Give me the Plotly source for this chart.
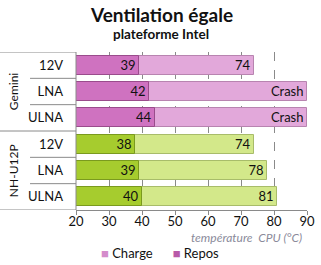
import plotly.graph_objects as go

groups = ["Gemini", "Gemini", "Gemini", "NH-U12P", "NH-U12P", "NH-U12P"]
configs = ["12V", "LNA", "ULNA", "12V", "LNA", "ULNA"]
repos = [39, 42, 44, 38, 39, 40]
charge = [74, 90, 90, 74, 78, 81]
charge_text = ["74", "Crash", "Crash", "74", "78", "81"]
x_ticks = [20, 30, 40, 50, 60, 70, 80, 90]

repos_colors = ["#cf72c0"] * 3 + ["#a6cc2e"] * 3
charge_colors = ["#e2a8da"] * 3 + ["#d3e88a"] * 3
repos_line = ["#9a4c8c"] * 3 + ["#7a9a1e"] * 3
charge_line = ["#b884b0"] * 3 + ["#a8bc6a"] * 3

ypos = list(range(len(configs) - 1, -1, -1))
FONT = "Lato, Carlito, Calibri, sans-serif"

fig = go.Figure()
fig.add_trace(go.Bar(
    name="Charge", orientation="h", y=ypos, x=charge, width=0.72,
    marker=dict(color=charge_colors, line=dict(color=charge_line, width=1)),
    text=charge_text, textposition="inside", insidetextanchor="end",
    textfont=dict(size=13, color="#111", family=FONT), constraintext="none",
    textangle=0, showlegend=False,
))
fig.add_trace(go.Bar(
    name="Repos", orientation="h", y=ypos, x=repos, width=0.72,
    marker=dict(color=repos_colors, line=dict(color=repos_line, width=1)),
    text=[str(v) for v in repos], textposition="inside", insidetextanchor="end",
    textfont=dict(size=13, color="#111", family=FONT), constraintext="none",
    textangle=0, showlegend=False,
))

shapes = []
for i in range(len(configs) + 1):
    yb = i - 0.5
    full = (i == 0 or i == len(configs) or i == 3)
    shapes.append(dict(type="line", xref="paper", yref="y",
                       x0=-0.33 if full else -0.199, x1=0, y0=yb, y1=yb,
                       line=dict(color="#8a8a8a", width=1)))
shapes.append(dict(type="line", xref="paper", yref="y", x0=0, x1=0,
                   y0=-0.5, y1=len(configs) - 0.5, line=dict(color="#8a8a8a", width=1)))

legend_text = ('<span style="color:#d48ccb">■</span> Charge      '
               '<span style="color:#b85aa8">■</span> Repos')

annotations = [
    dict(text="Gemini", xref="paper", yref="y", x=-0.27, xanchor="center", y=4,
         textangle=-90, showarrow=False, font=dict(size=12, color="#111", family=FONT)),
    dict(text="NH-U12P", xref="paper", yref="y", x=-0.27, xanchor="center", y=1,
         textangle=-90, showarrow=False, font=dict(size=12, color="#111", family=FONT)),
    dict(text="<b>Ventilation égale</b>", xref="paper", yref="paper", x=0.368,
         xanchor="center", y=1, yanchor="middle", yshift=38, showarrow=False,
         font=dict(size=19, color="#111", family=FONT)),
    dict(text="<b>plateforme Intel</b>", xref="paper", yref="paper", x=0.368,
         xanchor="center", y=1, yanchor="middle", yshift=18, showarrow=False,
         font=dict(size=13.5, color="#111", family=FONT)),
    dict(text="<i>température  CPU (°C)</i>", xref="paper", yref="paper", x=0.985,
         xanchor="right", y=0, yanchor="middle", yshift=-27, showarrow=False,
         font=dict(size=12, color="#8a8a9a", family=FONT)),
    dict(text=legend_text, xref="paper", yref="paper", x=0.364, xanchor="center",
         y=0, yanchor="middle", yshift=-43, showarrow=False,
         font=dict(size=13, color="#111", family=FONT)),
]

fig.update_layout(
    width=321, height=265, barmode="overlay",
    margin=dict(l=76, r=14, t=52, b=55, autoexpand=False),
    paper_bgcolor="white", plot_bgcolor="white",
    font=dict(family=FONT, size=12, color="#111"),
    showlegend=False,
    shapes=shapes, annotations=annotations, bargap=0,
)
fig.update_xaxes(range=[20, 90], tickvals=x_ticks, showgrid=True,
                 gridcolor="#8a8a8a", griddash="dash", gridwidth=1,
                 showline=True, linecolor="#8a8a8a", ticks="outside", ticklen=4,
                 tickcolor="#8a8a8a", zeroline=False, tickfont=dict(size=13),
                 ticklabelstandoff=-5)
fig.update_yaxes(range=[-0.5, len(configs) - 0.5], tickvals=ypos, ticktext=configs,
                 ticks="", showgrid=False, zeroline=False, ticklabelstandoff=12,
                 tickfont=dict(size=13))
fig.write_html("out.html")
